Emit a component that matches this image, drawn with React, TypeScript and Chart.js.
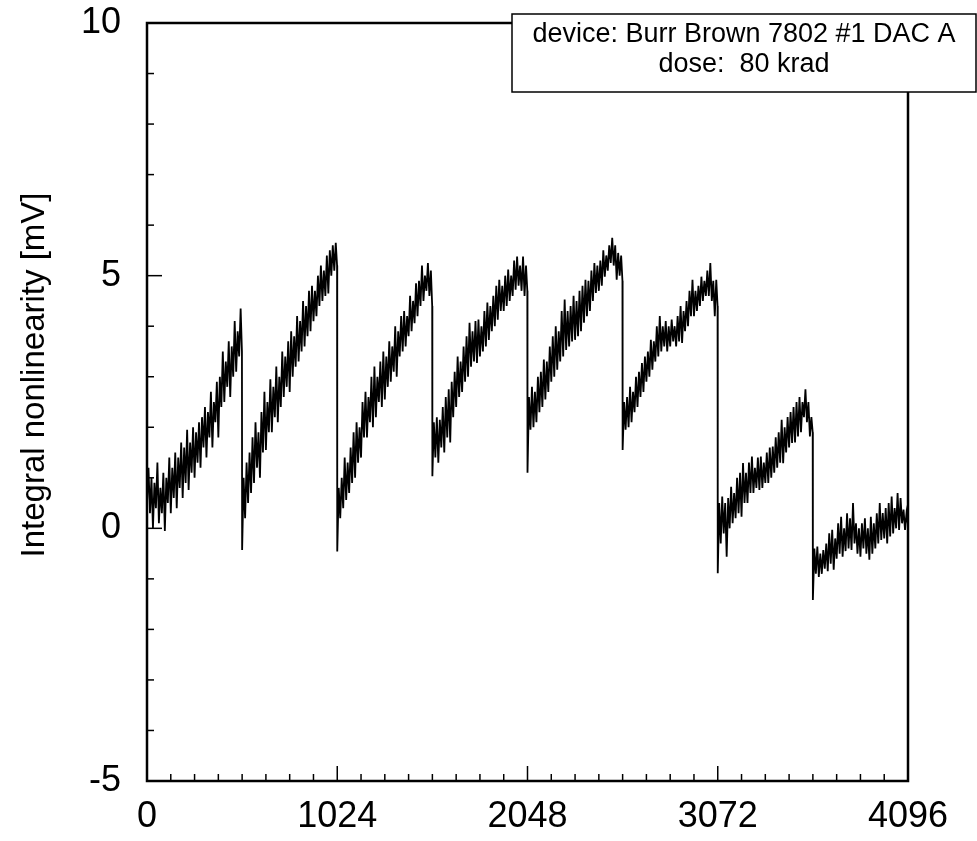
import React, { useEffect, useRef } from 'react';
import { Chart, registerables } from 'chart.js';

Chart.register(...registerables);

// DAC codes where each 512-code segment begins
const SEGMENT_STARTS = [0, 512, 1024, 1536, 2048, 2560, 3072, 3584];
const SAMPLE_STEP = 8; // codes between samples inside a segment; last value of each list is code start+511

// Integral nonlinearity [mV], one list per 512-code segment
const SEG_0 = [0.5, 1.2, 0.3, 1.0, 0.0, 0.9, 0.4, 1.3, 0.1, 0.8, 0.3, 1.1, -0.05, 1.0, 0.5, 1.4, 0.3, 1.2, 0.6, 1.5, 0.4, 1.4, 0.8, 1.7, 0.6, 1.6, 0.9, 1.95, 0.76, 1.7, 1.1, 2.0, 1.0, 1.9, 1.3, 2.1, 1.2, 2.2, 1.6, 2.4, 1.4, 2.3, 1.8, 2.7, 1.6, 2.5, 2.1, 2.9, 1.8, 3.0, 2.4, 3.5, 2.5, 3.3, 2.8, 3.7, 2.6, 3.6, 3.0, 4.1, 3.1, 3.9, 3.4, 4.35, 3.5];
const SEG_1 = [-0.43, 1.0, 0.2, 1.3, 0.5, 1.5, 0.7, 1.8, 0.9, 2.1, 1.2, 1.9, 1.0, 2.3, 1.5, 2.7, 1.55, 2.5, 1.9, 2.95, 1.9, 2.8, 2.2, 3.2, 2.1, 3.0, 2.4, 3.5, 2.6, 3.4, 2.8, 3.7, 2.7, 3.9, 3.0, 3.8, 3.2, 4.2, 3.3, 4.1, 3.5, 4.5, 3.6, 4.4, 3.8, 4.7, 3.9, 4.8, 4.1, 4.7, 4.2, 5.0, 4.4, 5.2, 4.5, 5.1, 4.6, 5.4, 4.65, 5.5, 5.0, 5.6, 5.1, 5.65, 5.2];
const SEG_2 = [-0.46, 0.8, 0.2, 1.0, 0.4, 1.4, 0.56, 1.3, 0.7, 1.6, 0.9, 1.9, 1.0, 2.1, 1.3, 2.0, 1.4, 2.5, 1.8, 2.7, 1.8, 2.6, 2.1, 3.0, 2.0, 3.2, 2.2, 3.0, 2.5, 3.3, 2.4, 3.5, 2.55, 3.4, 2.8, 3.7, 2.9, 3.6, 3.1, 4.0, 3.0, 3.9, 3.4, 4.2, 3.5, 4.3, 3.6, 4.2, 3.8, 4.6, 3.9, 4.5, 4.06, 4.85, 4.2, 4.9, 4.4, 5.2, 4.5, 5.0, 4.7, 5.25, 4.6, 5.1, 4.4];
const SEG_3 = [1.03, 2.1, 1.4, 2.2, 1.3, 2.15, 1.6, 2.4, 1.5, 2.6, 1.8, 2.75, 1.7, 2.9, 2.2, 3.1, 2.4, 3.4, 2.6, 3.3, 2.7, 3.6, 2.9, 3.8, 3.0, 4.07, 3.2, 3.9, 3.3, 4.1, 3.27, 4.13, 3.4, 4.0, 3.5, 4.3, 3.6, 4.47, 3.73, 4.4, 3.9, 4.6, 4.0, 4.8, 4.13, 4.92, 4.3, 4.8, 4.3, 5.0, 4.4, 5.12, 4.5, 5.0, 4.6, 5.3, 4.72, 5.38, 4.8, 5.2, 4.7, 5.38, 4.6, 5.2, 4.7];
const SEG_4 = [1.1, 2.6, 1.95, 2.8, 2.0, 2.7, 2.1, 3.0, 2.3, 3.1, 2.4, 3.34, 2.55, 3.3, 2.7, 3.6, 2.9, 3.8, 3.0, 4.0, 3.14, 3.9, 3.3, 4.3, 3.4, 4.53, 3.53, 4.3, 3.6, 4.4, 3.7, 4.6, 3.73, 4.5, 3.8, 4.7, 3.9, 4.8, 4.07, 4.92, 4.2, 4.9, 4.3, 5.1, 4.5, 5.25, 4.66, 5.2, 4.7, 5.3, 4.8, 5.5, 4.98, 5.4, 5.1, 5.6, 5.25, 5.75, 5.2, 5.6, 4.92, 5.45, 5.0, 5.4, 4.9];
const SEG_5 = [1.55, 2.5, 1.95, 2.6, 2.0, 2.8, 2.1, 2.7, 2.3, 3.0, 2.4, 3.1, 2.6, 3.27, 2.7, 3.4, 2.9, 3.5, 3.0, 3.73, 3.14, 3.7, 3.3, 4.0, 3.4, 4.2, 3.5, 4.0, 3.6, 4.1, 3.5, 4.0, 3.6, 4.13, 3.7, 4.0, 3.6, 4.2, 3.7, 4.4, 3.67, 4.3, 3.9, 4.5, 4.0, 4.7, 4.2, 4.92, 4.2, 4.7, 4.3, 4.8, 4.4, 4.98, 4.5, 4.9, 4.6, 5.1, 4.6, 5.25, 4.5, 4.9, 4.2, 4.92, 4.4];
const SEG_6 = [-0.89, 0.5, -0.3, 0.63, -0.1, 0.5, -0.56, 0.6, 0.0, 0.82, 0.1, 0.7, 0.2, 1.0, 0.3, 1.1, 0.23, 1.29, 0.5, 1.1, 0.5, 1.3, 0.7, 1.42, 0.7, 1.2, 0.8, 1.4, 0.76, 1.42, 0.8, 1.3, 0.9, 1.5, 0.9, 1.6, 1.0, 1.62, 1.1, 1.8, 1.2, 1.9, 1.3, 2.15, 1.29, 2.0, 1.5, 2.2, 1.6, 2.3, 1.69, 2.4, 1.7, 2.5, 1.82, 2.6, 1.9, 2.5, 2.2, 2.75, 2.1, 2.5, 1.82, 2.2, 1.9];
const SEG_7 = [-1.42, -0.4, -0.9, -0.36, -0.96, -0.5, -0.9, -0.43, -0.8, -0.3, -0.85, -0.1, -0.7, -0.03, -0.82, -0.2, -0.6, 0.1, -0.5, 0.23, -0.56, 0.0, -0.45, 0.3, -0.4, 0.2, -0.43, 0.5, -0.3, 0.1, -0.5, 0.0, -0.56, 0.1, -0.4, 0.2, -0.5, 0.0, -0.62, 0.23, -0.5, 0.1, -0.4, 0.3, -0.3, 0.5, -0.23, 0.3, -0.2, 0.4, -0.3, 0.5, -0.16, 0.63, -0.1, 0.4, 0.0, 0.7, -0.03, 0.6, 0.1, 0.37, -0.03, 0.3, 0.1];
const SEGMENTS = [SEG_0, SEG_1, SEG_2, SEG_3, SEG_4, SEG_5, SEG_6, SEG_7];

const X_MIN = 0;
const X_MAX = 4096;
const X_MINOR_STEP = 128;
const X_MAJOR_STEP = 1024;
const Y_MIN = -5;
const Y_MAX = 10;
const Y_MINOR_STEP = 1;
const Y_MAJOR_STEP = 5;

const Y_TITLE = 'Integral nonlinearity [mV]';
const INFO_LINES = ['device: Burr Brown 7802 #1 DAC A', 'dose:  80 krad'];

const FONT = "'Liberation Sans', Arial, Helvetica, sans-serif";

function buildPoints() {
  const pts: { x: number; y: number }[] = [];
  SEGMENTS.forEach((seg, s) => {
    const start = SEGMENT_STARTS[s];
    seg.forEach((v, i) => {
      const x = i < seg.length - 1 ? start + i * SAMPLE_STEP : start + 511;
      pts.push({ x, y: v });
    });
  });
  return pts;
}

const framePlugin = {
  id: 'frameTicks',
  afterDraw(chart: any) {
    const { ctx, chartArea } = chart;
    const { left, right, top, bottom } = chartArea;
    ctx.save();
    ctx.strokeStyle = '#000';
    // inward ticks at the library's tick positions
    ctx.lineWidth = 1.5;
    const xs = chart.scales.x;
    xs.ticks.forEach((t: any) => {
      if (t.value <= X_MIN || t.value >= X_MAX) return;
      const px = xs.getPixelForValue(t.value);
      const len = t.value % X_MAJOR_STEP === 0 ? 15 : 7;
      ctx.beginPath();
      ctx.moveTo(px, bottom);
      ctx.lineTo(px, bottom - len);
      ctx.stroke();
    });
    const ys = chart.scales.y;
    ys.ticks.forEach((t: any) => {
      if (t.value <= Y_MIN || t.value >= Y_MAX) return;
      const py = ys.getPixelForValue(t.value);
      const len = Math.abs(t.value % Y_MAJOR_STEP) === 0 ? 15 : 7;
      ctx.beginPath();
      ctx.moveTo(left, py);
      ctx.lineTo(left + len, py);
      ctx.stroke();
    });
    // frame
    ctx.lineWidth = 2.5;
    ctx.strokeRect(left, top, right - left, bottom - top);

    // y-axis title
    ctx.fillStyle = '#000';
    ctx.font = `33px ${FONT}`;
    ctx.textAlign = 'center';
    ctx.textBaseline = 'alphabetic';
    ctx.save();
    ctx.translate(44, (top + bottom) / 2 - 27);
    ctx.rotate(-Math.PI / 2);
    ctx.fillText(Y_TITLE, 0, 0);
    ctx.restore();

    // info box
    const bx = 512;
    const by = 14;
    const bw = 464;
    const bh = 78;
    ctx.fillStyle = '#fff';
    ctx.fillRect(bx, by, bw, bh);
    ctx.lineWidth = 1.5;
    ctx.strokeRect(bx, by, bw, bh);
    ctx.fillStyle = '#000';
    ctx.font = `27px ${FONT}`;
    ctx.textAlign = 'center';
    ctx.fillText(INFO_LINES[0], bx + bw / 2, 42);
    ctx.fillText(INFO_LINES[1], bx + bw / 2, 72);
    ctx.restore();
  },
};

export default function App() {
  const ref = useRef<HTMLCanvasElement | null>(null);
  useEffect(() => {
    if (!ref.current) return;
    const chart = new Chart(ref.current, {
      type: 'line',
      data: {
        datasets: [
          {
            data: buildPoints(),
            borderColor: '#000',
            borderWidth: 1.8,
            pointRadius: 0,
            tension: 0,
            fill: false,
          },
        ],
      },
      options: {
        responsive: false,
        animation: false,
        parsing: false as any,
        layout: { padding: { top: 23, right: 69, bottom: 0, left: 0 } },
        plugins: { legend: { display: false }, tooltip: { enabled: false }, title: { display: false } },
        scales: {
          x: {
            type: 'linear',
            min: X_MIN,
            max: X_MAX,
            border: { display: false },
            grid: { display: false, drawTicks: false },
            afterFit: (s: any) => {
              s.height = 60;
              s.paddingLeft = 0;
              s.paddingRight = 0;
            },
            ticks: {
              stepSize: X_MINOR_STEP,
              autoSkip: false,
              maxRotation: 0,
              padding: 14,
              color: '#000',
              font: { family: FONT, size: 36 },
              callback: (v: any) => (Number(v) % X_MAJOR_STEP === 0 ? String(v) : ''),
            },
          },
          y: {
            type: 'linear',
            min: Y_MIN,
            max: Y_MAX,
            border: { display: false },
            grid: { display: false, drawTicks: false },
            afterFit: (s: any) => {
              s.width = 147;
              s.paddingTop = 0;
              s.paddingBottom = 0;
            },
            ticks: {
              stepSize: Y_MINOR_STEP,
              autoSkip: false,
              padding: 26,
              color: '#000',
              font: { family: FONT, size: 36 },
              callback: (v: any) => (Number(v) % Y_MAJOR_STEP === 0 ? String(v) : ''),
            },
          },
        },
      },
      plugins: [framePlugin],
    });
    return () => chart.destroy();
  }, []);
  return (
    <div style={{ position: 'fixed', left: 0, top: 0, width: 977, height: 841, background: '#fff' }}>
      <canvas ref={ref} width={977} height={841} style={{ width: 977, height: 841, display: 'block' }} />
    </div>
  );
}
